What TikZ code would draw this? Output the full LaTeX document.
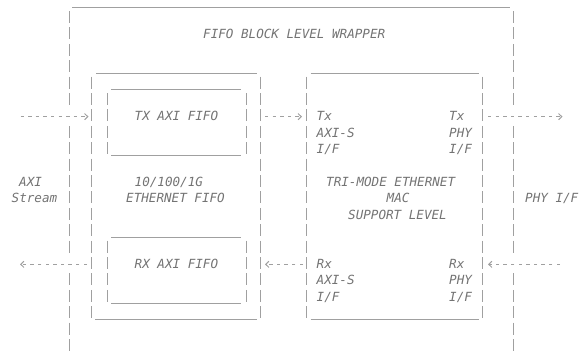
\documentclass[tikz,border=0pt]{standalone}
\usepackage{fontspec}
\setmonofont{DejaVu Sans Mono}
\usetikzlibrary{arrows.meta}
\definecolor{txtc}{HTML}{737373}
\definecolor{linec}{HTML}{A0A0A0}
\begin{document}
\begin{tikzpicture}[x=1pt,y=-1pt,
  declare function={ry(\r)=17+(\r-1)*16.4;},
  vbar/.style={draw=linec,line width=0.9pt,dash pattern=on 12pt off 4.4pt},
  hbar/.style={draw=linec,line width=0.9pt},
  flow/.style={draw=linec,line width=1pt,dash pattern=on 3.4pt off 4.2pt,
    -{Straight Barb[length=3.2pt,width=6.2pt,line width=1pt]}},
  lbl/.style={anchor=base west,inner sep=0pt,text=txtc,
    font=\fontsize{12.6}{15}\selectfont\ttfamily\itshape}]
\useasboundingbox (0,0) rectangle (579,351);
\clip (0,0) rectangle (579,351);

% ---- outer wrapper ----
\draw[hbar] (72,{ry(0)+7.3}) -- (510,{ry(0)+7.3});
\foreach \x in {69,513}{
  \draw[vbar] (\x,{ry(1)-6}) -- (\x,{ry(6)+6});
  \draw[vbar] (\x,{ry(8)-6}) -- (\x,{ry(15)+6});
  \draw[vbar] (\x,{ry(17)-6}) -- (\x,{ry(22)+6});
}

% ---- ethernet fifo box ----
\draw[hbar] (96,{ry(4)+7.3}) -- (257,{ry(4)+7.3});
\draw[hbar] (95,{ry(19)+7.3}) -- (257,{ry(19)+7.3});
\foreach \x in {91.7,260.7}{
  \draw[vbar] (\x,{ry(5)-6}) -- (\x,{ry(19)+6});
}

% ---- TX AXI FIFO box ----
\draw[hbar] (111,{ry(5)+7.3}) -- (241,{ry(5)+7.3});
\draw[hbar] (111,{ry(9)+7.3}) -- (241,{ry(9)+7.3});
\foreach \x in {107.3,246}{
  \draw[vbar] (\x,{ry(6)-6}) -- (\x,{ry(9)+6});
}

% ---- RX AXI FIFO box ----
\draw[hbar] (111,{ry(14)+7.3}) -- (241,{ry(14)+7.3});
\draw[hbar] (111,{ry(18)+7.3}) -- (241,{ry(18)+7.3});
\foreach \x in {107.3,246}{
  \draw[vbar] (\x,{ry(15)-6}) -- (\x,{ry(18)+6});
}

% ---- MAC box ----
\draw[hbar] (310.5,{ry(4)+7.3}) -- (479,{ry(4)+7.3});
\draw[hbar] (310.5,{ry(19)+7.3}) -- (479,{ry(19)+7.3});
\foreach \x in {306.3,482.6}{
  \draw[vbar] (\x,{ry(5)-6}) -- (\x,{ry(19)+6});
}

% ---- arrow end points ----
\coordinate (txinA) at (20.5,{ry(7)+1.3});
\coordinate (txinB) at (88.5,{ry(7)+1.3});
\coordinate (txmidA) at (265,{ry(7)+1.3});
\coordinate (txmidB) at (302,{ry(7)+1.3});
\coordinate (txoutA) at (488,{ry(7)+1.3});
\coordinate (txoutB) at (562.5,{ry(7)+1.3});
\coordinate (rxoutA) at (87,{ry(16)+1.3});
\coordinate (rxoutB) at (20,{ry(16)+1.3});
\coordinate (rxmidA) at (303,{ry(16)+1.3});
\coordinate (rxmidB) at (265,{ry(16)+1.3});
\coordinate (rxinA) at (560,{ry(16)+1.3});
\coordinate (rxinB) at (488,{ry(16)+1.3});

\draw[flow] (txinA) -- (txinB);
\draw[flow] (txmidA) -- (txmidB);
\draw[flow] (txoutA) -- (txoutB);
\draw[flow] (rxoutA) -- (rxoutB);
\draw[flow] (rxmidA) -- (rxmidB);
\draw[flow] (rxinA) -- (rxinB);

% ---- labels ----
\node[lbl] (title) at (203,{ry(2)+5.5}) {FIFO BLOCK LEVEL WRAPPER};
\node[lbl] (txfifo) at (134.5,{ry(7)+5.5}) {TX AXI FIFO};
\node[lbl] (eth1) at (134.5,{ry(11)+5.5}) {10/100/1G};
\node[lbl] (eth2) at (126,{ry(12)+5.5}) {ETHERNET FIFO};
\node[lbl] (rxfifo) at (134.5,{ry(16)+5.5}) {RX AXI FIFO};
\node[lbl] (axi) at (19,{ry(11)+5.5}) {AXI};
\node[lbl] (stream) at (11.5,{ry(12)+5.5}) {Stream};

\node[lbl] (mtx) at (316.5,{ry(7)+5.5}) {Tx};
\node[lbl] (maxis1) at (316.5,{ry(8)+5.5}) {AXI-S};
\node[lbl] (mif1) at (316.5,{ry(9)+5.5}) {I/F};
\node[lbl] (ptx) at (449,{ry(7)+5.5}) {Tx};
\node[lbl] (pphy1) at (449,{ry(8)+5.5}) {PHY};
\node[lbl] (pif1) at (449,{ry(9)+5.5}) {I/F};

\node[lbl] (tri) at (326,{ry(11)+5.5}) {TRI-MODE ETHERNET};
\node[lbl] (mac) at (386.5,{ry(12)+5.5}) {MAC};
\node[lbl] (sup) at (348,{ry(13)+5.5}) {SUPPORT LEVEL};

\node[lbl] (mrx) at (316.5,{ry(16)+5.5}) {Rx};
\node[lbl] (maxis2) at (316.5,{ry(17)+5.5}) {AXI-S};
\node[lbl] (mif2) at (316.5,{ry(18)+5.5}) {I/F};
\node[lbl] (prx) at (449,{ry(16)+5.5}) {Rx};
\node[lbl] (pphy2) at (449,{ry(17)+5.5}) {PHY};
\node[lbl] (pif2) at (449,{ry(18)+5.5}) {I/F};

\node[lbl] (phyif) at (525,{ry(12)+5.5}) {PHY I/F};
\end{tikzpicture}
\end{document}
